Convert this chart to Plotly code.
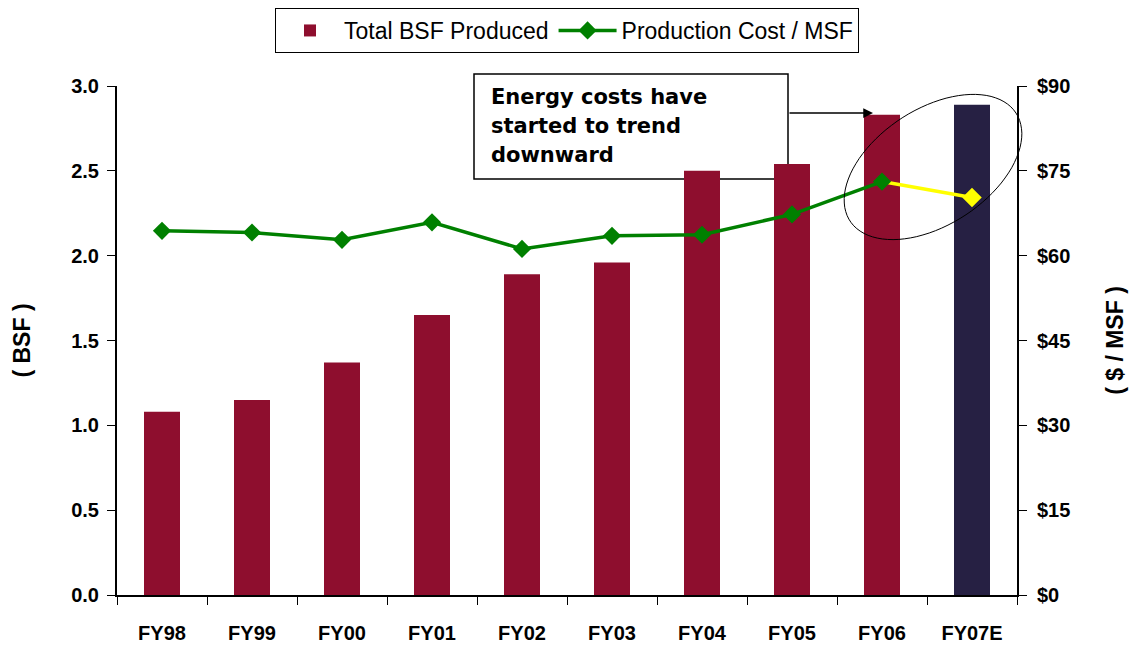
import numpy as np
import plotly.graph_objects as go

# chart data
years = ["FY98", "FY99", "FY00", "FY01", "FY02", "FY03", "FY04", "FY05", "FY06", "FY07E"]
bsf = [1.08, 1.15, 1.37, 1.65, 1.89, 1.96, 2.50, 2.54, 2.83, 2.89]
cost = [64.4, 64.1, 62.8, 65.9, 61.2, 63.5, 63.7, 67.3, 73.1, 70.3]
left_ticks = [0.0, 0.5, 1.0, 1.5, 2.0, 2.5, 3.0]
right_ticks = [0, 15, 30, 45, 60, 75, 90]
callout = ["Energy costs have", "started to trend", "downward"]

MAROON = "#8e0e2e"
NAVY = "#262043"
GREEN = "#008000"
YELLOW = "#ffff00"

# page body has an 8px margin, so the figure is drawn 8px in from the corner
OFF = 8
W, H = 1138 - OFF, 645 - OFF
L, R, T, B = 117 - OFF, 1017 - OFF, 86 - OFF, 595 - OFF  # plot area, figure pixels


def px(x):
    # page pixel -> paper x
    return (x - OFF - L) / (R - L)


def py(y):
    # page pixel -> paper y
    return (B - (y - OFF)) / (B - T)


bar_colors = [MAROON] * (len(years) - 1) + [NAVY]

fig = go.Figure()

fig.add_trace(go.Bar(
    x=years, y=bsf, name="Total BSF Produced",
    marker=dict(color=bar_colors, line=dict(width=0)),
    width=0.4, legendrank=1,
))

# estimate segment in yellow
fig.add_trace(go.Scatter(
    x=years[-2:], y=cost[-2:], yaxis="y2", mode="lines",
    line=dict(color=YELLOW, width=3.5),
    showlegend=False, hoverinfo="skip",
))
fig.add_trace(go.Scatter(
    x=years[-1:], y=cost[-1:], yaxis="y2", mode="markers",
    marker=dict(symbol="diamond", size=15, color=YELLOW, opacity=1, line=dict(width=0)),
    showlegend=False,
))

fig.add_trace(go.Scatter(
    x=years[:-1], y=cost[:-1], yaxis="y2", mode="lines+markers",
    name="Production Cost / MSF",
    line=dict(color=GREEN, width=3.5),
    marker=dict(symbol="diamond", size=14, color=GREEN),
    legendrank=2,
))

tick_font = dict(family="Liberation Sans", size=20, color="black", weight="bold")
title_font = dict(family="Liberation Sans", size=23, color="black", weight="bold")

fig.update_layout(
    width=W, height=H,
    margin=dict(l=L, r=W - R, t=T, b=H - B, autoexpand=False),
    paper_bgcolor="white", plot_bgcolor="white",
    showlegend=True,
    legend=dict(
        orientation="h", x=0.5, xanchor="center", y=py(8), yanchor="top",
        bordercolor="black", borderwidth=1,
        font=dict(family="Liberation Sans", size=23, color="black"),
        itemwidth=58, traceorder="normal",
    ),
    xaxis=dict(
        type="category", range=[-0.5, len(years) - 0.5], automargin=False,
        showline=True, linecolor="black", linewidth=1.5,
        ticks="outside", tickson="boundaries", ticklen=8, tickcolor="black",
        tickfont=tick_font, ticklabelstandoff=19, showgrid=False,
    ),
    yaxis=dict(
        range=[0, 3], tickvals=left_ticks, tickformat=".1f", automargin=False,
        showline=True, linecolor="black", linewidth=2,
        ticks="outside", ticklen=8, tickcolor="black", ticklabelstandoff=4,
        tickfont=tick_font, showgrid=False, zeroline=False,
        title=dict(text="( BSF )", font=title_font, standoff=34),
    ),
    yaxis2=dict(
        overlaying="y", side="right", automargin=False,
        range=[0, 90], tickvals=right_ticks, ticktext=["$" + str(v) for v in right_ticks],
        showline=True, linecolor="black", linewidth=2,
        ticks="outside", ticklen=8, tickcolor="black", ticklabelstandoff=6,
        tickfont=tick_font, showgrid=False, zeroline=False,
        title=dict(text="( $ / MSF )", font=title_font, standoff=38),
    ),
)

# callout box, kept under the bars
fig.add_shape(type="rect", xref="paper", yref="paper", layer="below",
              x0=px(474), x1=px(788), y0=py(179), y1=py(74),
              line=dict(color="black", width=1.5))
for i, line_text in enumerate(callout):
    fig.add_annotation(
        xref="paper", yref="paper", x=px(489), y=py(97 + 29 * i),
        xanchor="left", yanchor="middle", text=line_text, showarrow=False,
        font=dict(family="DejaVu Sans", size=21, color="black", weight="bold"),
    )

# arrow from box to FY06 bar
fig.add_annotation(
    xref="paper", yref="paper", x=px(873), y=py(113),
    ax=-85, ay=0, text="", showarrow=True,
    arrowhead=2, arrowsize=1.3, arrowwidth=1.5, arrowcolor="black",
)

# tilted ellipse round the last two points
cx, cy, a, b, ang = 933, 167, 99, 58, np.deg2rad(-33)
t = np.linspace(0, 2 * np.pi, 90)
ex = cx + a * np.cos(t) * np.cos(ang) - b * np.sin(t) * np.sin(ang)
ey = cy + a * np.cos(t) * np.sin(ang) + b * np.sin(t) * np.cos(ang)
path = "M " + " L ".join(f"{px(x):.4f},{py(y):.4f}" for x, y in zip(ex, ey)) + " Z"
fig.add_shape(type="path", xref="paper", yref="paper", path=path,
              line=dict(color="black", width=1))

fig.write_html("out.html")
